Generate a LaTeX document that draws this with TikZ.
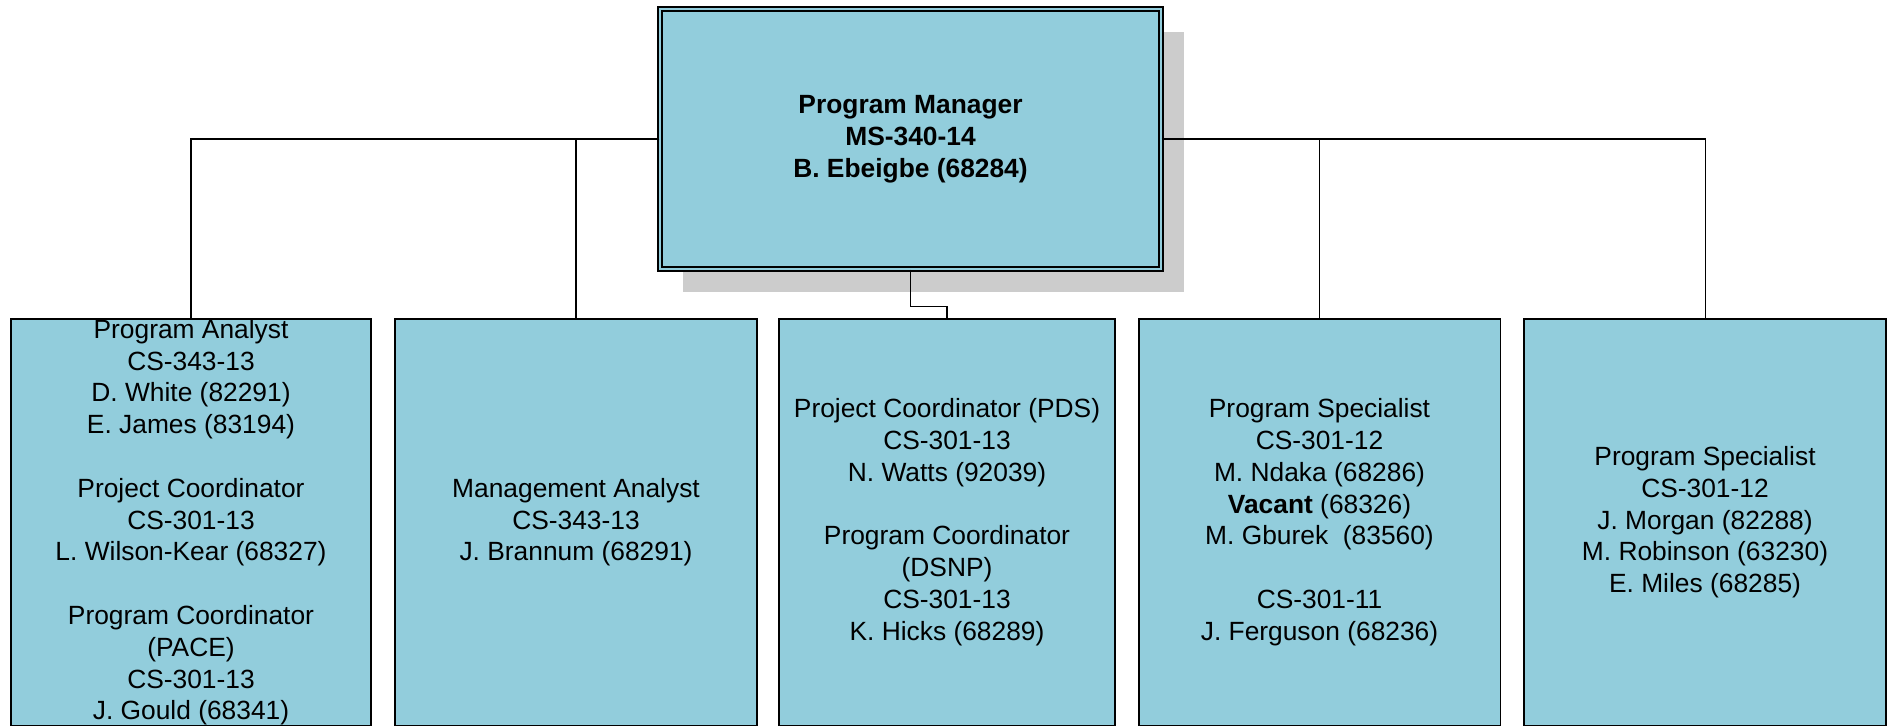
\documentclass[tikz,border=0pt]{standalone}
\usepackage{fontspec}
\setmainfont{Liberation Sans}
\usetikzlibrary{shadows}
\definecolor{boxblue}{HTML}{92CDDC}

\begin{document}
\begin{tikzpicture}[
    unit/.style={rectangle, draw=black, line width=0.85pt, fill=boxblue,
      minimum height=8.13cm, inner sep=0pt, align=center,
      font=\fontsize{15}{18.1}\selectfont},
    head/.style={rectangle, draw=black, line width=0.85pt, double=boxblue,
      double distance=1.4pt, fill=boxblue, minimum width=10.02cm,
      minimum height=5.2cm, align=center,
      font=\fontsize{15}{18.1}\selectfont\bfseries,
      drop shadow={shadow xshift=0.46cm, shadow yshift=-0.46cm,
        fill=black!20, opacity=1}},
    line/.style={-, line width=0.6pt}
  ]
    \useasboundingbox (0,0) rectangle (37.74,14.54);

    % Jefe
    \node[head] (pm) at (18.21, 11.76)
      {Program Manager\\ MS-340-14\\ B. Ebeigbe (68284)};

    % Unidades
    \node[unit, minimum width=7.2cm] (analyst) at (3.82, 4.095)
      {Program Analyst\\ CS-343-13\\ D. White (82291)\\ E. James (83194)\\[\baselineskip]
       Project Coordinator\\ CS-301-13\\ L. Wilson-Kear (68327)\\[\baselineskip]
       Program Coordinator\\ (PACE)\\ CS-301-13\\ J. Gould (68341)};
    \node[unit, minimum width=7.24cm] (mgmt) at (11.52, 4.095)
      {Management Analyst\\ CS-343-13\\ J. Brannum (68291)};
    \node[unit, minimum width=6.72cm] (coord) at (18.94, 4.095)
      {Project Coordinator (PDS)\\ CS-301-13\\ N. Watts (92039)\\[\baselineskip]
       Program Coordinator\\ (DSNP)\\ CS-301-13\\ K. Hicks (68289)};
    \node[unit, minimum width=7.23cm] (spec) at (26.39, 4.095)
      {Program Specialist\\ CS-301-12\\ M. Ndaka (68286)\\ \textbf{Vacant} (68326)\\
       M. Gburek~ (83560)\\[\baselineskip]
       CS-301-11\\ J. Ferguson (68236)};
    \node[unit, minimum width=7.24cm] (specb) at (34.10, 4.095)
      {Program Specialist\\ CS-301-12\\ J. Morgan (82288)\\ M. Robinson (63230)\\
       E. Miles (68285)};

    % Lineas
    \draw[line] (pm.west) -| (analyst.north);
    \draw[line] (pm.west) -| (mgmt.north);
    \draw[line] (pm.south) -- ++(0,-0.74) -| (coord.north);
    \draw[line] (pm.east) -| (spec.north);
    \draw[line] (pm.east) -| (specb.north);
  \end{tikzpicture}
\end{document}
